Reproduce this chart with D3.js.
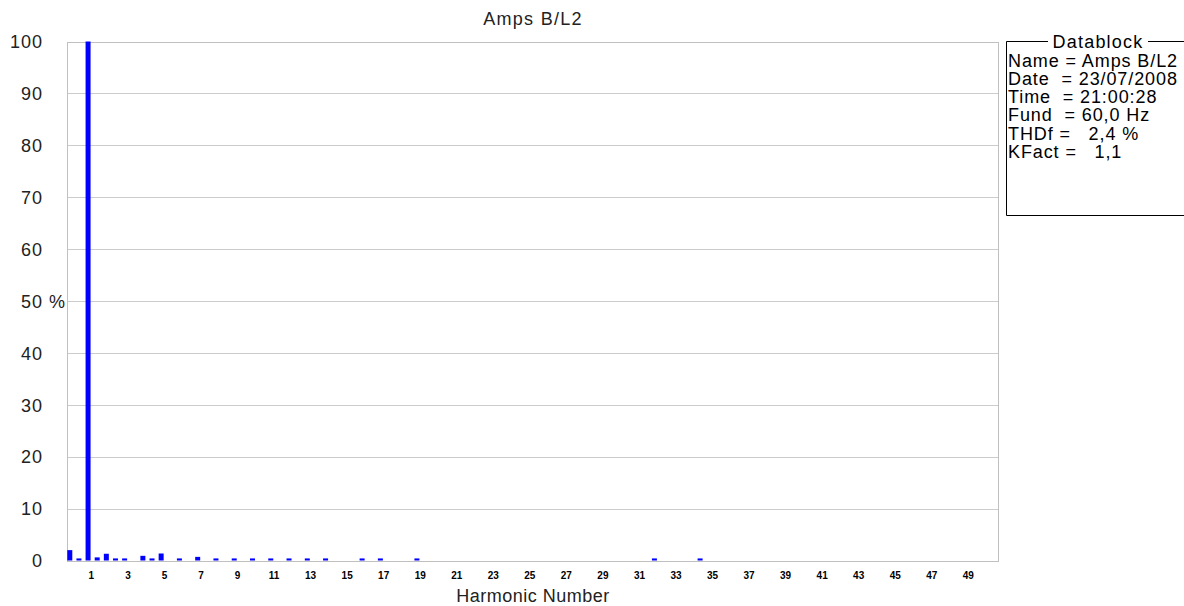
<!DOCTYPE html>
<html><head><meta charset="utf-8">
<script src="https://cdn.jsdelivr.net/npm/d3@7"></script>
<style>
html,body{margin:0;padding:0;background:#fff;}
svg{display:block;}
text{font-family:"Liberation Sans",Arial,sans-serif;fill:#000;}
</style></head>
<body>
<svg id="c" width="1184" height="606"></svg>
<script>
// Harmonic orders (including interharmonic half-orders) and their % of fundamental
const harmonics = [0, 0.5, 1, 1.5, 2, 2.5, 3, 4, 4.5, 5, 6, 7, 8, 9, 10, 11, 12, 13, 14, 16, 17, 19, 32, 34.5];
const values    = [2.0, 0.4, 100, 0.6, 1.3, 0.4, 0.4, 0.9, 0.4, 1.35, 0.4, 0.7, 0.4, 0.4, 0.4, 0.4, 0.4, 0.4, 0.4, 0.4, 0.4, 0.4, 0.4, 0.4];
const xTicks = d3.range(1, 50, 2);
const yTicks = [0, 10, 20, 30, 40, 50, 60, 70, 80, 90, 100];
const title = "Amps B/L2";
const xTitle = "Harmonic Number";
const datablockTitle = "Datablock";
const datablockLines = [
  "Name = Amps B/L2",
  "Date  = 23/07/2008",
  "Time  = 21:00:28",
  "Fund  = 60,0 Hz",
  "THDf =   2,4 %",
  "KFact =   1,1"
];

const svg = d3.select("#c");
const plot = {left: 67, right: 998, top: 41.5, bottom: 560.5};

const x = d3.scaleLinear().domain([0, 49]).range([72.3, 967.5]);
const y = d3.scaleLinear().domain([0, 100]).range([plot.bottom, plot.top]);

// gridlines
svg.append("g").selectAll("line").data(yTicks).join("line")
  .attr("x1", plot.left).attr("x2", plot.right)
  .attr("y1", d => Math.round(y(d)) + 0.5).attr("y2", d => Math.round(y(d)) + 0.5)
  .attr("stroke", "#cccccc").attr("stroke-width", 1);

// frame
svg.append("rect")
  .attr("x", plot.left + 0.5).attr("y", Math.round(plot.top) + 0.5)
  .attr("width", plot.right - plot.left).attr("height", Math.round(plot.bottom) - Math.round(plot.top))
  .attr("fill", "none").attr("stroke", "#c0c0c0");

// bars
const barW = 5;
svg.append("g").selectAll("rect").data(harmonics).join("rect")
  .attr("x", d => x(d) - barW)
  .attr("width", barW)
  .attr("y", (d, i) => y(values[i]))
  .attr("height", (d, i) => y(0) - y(values[i]))
  .attr("fill", "#0000ff");

// y labels
svg.append("g").selectAll("text").data(yTicks).join("text")
  .attr("x", 43).attr("y", d => y(d) + 2)
  .attr("text-anchor", "end").attr("dominant-baseline", "middle")
  .style("font-size", "18px").style("letter-spacing", "1px").style("fill", "#222")
  .text(d => d);
svg.append("text").attr("x", 49).attr("y", y(50) + 2)
  .attr("dominant-baseline", "middle").style("font-size", "18px").style("fill", "#222").text("%");

// x tick labels
svg.append("g").selectAll("text").data(xTicks).join("text")
  .attr("x", d => x(d) + 0.8).attr("y", 576)
  .attr("text-anchor", "middle").attr("dominant-baseline", "middle")
  .style("font-size", "10px").style("font-weight", "bold")
  .text(d => d);

// titles
svg.append("text").attr("x", 533).attr("y", 20)
  .attr("text-anchor", "middle").attr("dominant-baseline", "middle")
  .style("font-size", "18px").style("letter-spacing", "1.3px").style("fill", "#222").text(title);
svg.append("text").attr("x", 533).attr("y", 597)
  .attr("text-anchor", "middle").attr("dominant-baseline", "middle")
  .style("font-size", "18px").style("letter-spacing", "0.5px").style("fill", "#222").text(xTitle);

// datablock
const db = {left: 1006.5, top: 41.5, bottom: 215.5, right: 1190};
svg.append("path")
  .attr("d", `M${db.right},${db.top} H1148 M1048,${db.top} H${db.left} V${db.bottom} H${db.right}`)
  .attr("fill", "none").attr("stroke", "#000");
svg.append("text").attr("x", 1098).attr("y", 43)
  .attr("text-anchor", "middle").attr("dominant-baseline", "middle")
  .style("font-size", "18px").style("letter-spacing", "1.2px").text(datablockTitle);
svg.append("g").selectAll("text").data(datablockLines).join("text")
  .attr("x", 1008).attr("y", (d, i) => 62 + i * 18.2)
  .attr("dominant-baseline", "middle")
  .style("font-size", "18px").style("letter-spacing", "0.9px").style("white-space", "pre")
  .text(d => d);
</script>
</body></html>
